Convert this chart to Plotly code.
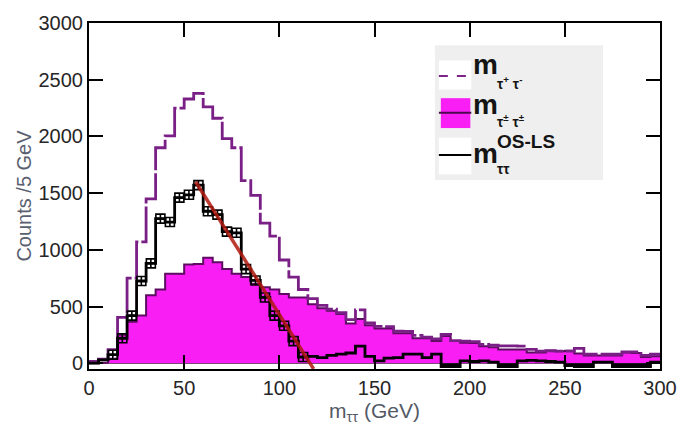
import numpy as np
import plotly.graph_objects as go

# ---- data (5 GeV bins, 0-300 GeV) ----
bin_width = 5
bin_edges = list(range(0, 305, bin_width))

os_counts = [15, 35, 120, 405, 750, 1070, 1450, 1900, 2005, 2250,
             2330, 2380, 2260, 2160, 1980, 1900, 1610, 1480, 1235, 1120,
             910, 760, 650, 570, 510, 476, 445, 385, 470, 355,
             325, 322, 282, 280, 245, 230, 215, 255, 200, 195,
             190, 165, 160, 153, 153, 150, 122, 107, 110, 107,
             107, 130, 80, 79, 79, 79, 100, 100, 70, 79]

ls_counts = [0, 5, 40, 250, 365, 420, 600, 650, 790, 790,
             870, 875, 930, 890, 830, 790, 760, 700, 670, 650,
             610, 580, 580, 520, 485, 462, 434, 350, 390, 334,
             306, 306, 264, 264, 221, 221, 195, 240, 195, 180,
             178, 150, 140, 122, 122, 122, 95, 95, 110, 105,
             110, 85, 68, 68, 68, 68, 94, 90, 55, 62]

diff_counts = [0, 30, 75, 220, 420, 725, 880, 1275, 1245, 1460,
               1485, 1570, 1340, 1310, 1160, 1150, 830, 730, 580, 420,
               330, 195, 55, 60, 50, 70, 80, 90, 150, 60,
               20, 45, 50, 80, 80, 50, 80, -30, -30, 20,
               15, 20, 10, -30, -30, 20, 25, 20, 15, 10,
               -20, -30, -30, 10, 10, -30, -30, -30, -30, 10]

fit_x = [56, 118]
fit_y = [1600, -50]

x_ticks = [0, 50, 100, 150, 200, 250, 300]
y_ticks = [0, 500, 1000, 1500, 2000, 2500, 3000]

# ---- figure geometry ----
W, H = 689, 430
L, R, T, B = 89, 19, 13, 58
PW, PH = W - L - R, H - T - B


def px(xp):
    return (xp - L) / PW


def py(yp):
    return (H - B - yp) / PH


def step(vals):
    return list(vals) + [vals[-1]]


centers = [e + bin_width / 2 for e in bin_edges[:-1]]
neg_part = [min(v, 0) for v in diff_counts]

fig = go.Figure()

# same-sign (LS) filled histogram
fig.add_trace(go.Scatter(x=bin_edges, y=step(ls_counts), mode="lines",
                         line=dict(shape="hv", color="#5e0c62", width=2),
                         fill="tozeroy", fillcolor="#f81ef4", showlegend=False))
# opposite-sign histogram
fig.add_trace(go.Scatter(x=bin_edges, y=step(os_counts), mode="lines",
                         line=dict(shape="hv", color="#7a1f86", width=2.8,
                                   dash="40px,3px"),
                         showlegend=False))
# negative part of OS-LS
fig.add_trace(go.Scatter(x=bin_edges, y=step(neg_part), mode="lines",
                         line=dict(shape="hv", color="black", width=0),
                         fill="tozeroy", fillcolor="black", showlegend=False))
# OS-LS histogram
fig.add_trace(go.Scatter(x=bin_edges, y=step(diff_counts), mode="lines",
                         line=dict(shape="hv", color="black", width=2.8),
                         showlegend=False))
fig.add_trace(go.Scatter(x=centers[2:23], y=diff_counts[2:23], mode="markers",
                         marker=dict(symbol="square-cross-open", size=9,
                                     color="black", line=dict(width=1.6)),
                         showlegend=False))
# linear fit
fig.add_trace(go.Scatter(x=fit_x, y=fit_y, mode="lines",
                         line=dict(color="rgba(175,25,15,0.85)", width=3.5),
                         showlegend=False))

axis_common = dict(showline=True, linewidth=2, linecolor="black", mirror="allticks",
                   ticks="inside", ticklen=14, tickwidth=2, tickcolor="black",
                   showgrid=False,
                   tickfont=dict(family="Liberation Sans, Arial", size=20, color="#262626"))

fig.update_layout(
    width=W, height=H,
    margin=dict(l=L, r=R, t=T, b=B),
    paper_bgcolor="white", plot_bgcolor="white",
    xaxis=dict(range=[0, 300], tickvals=x_ticks, zeroline=False,
               title=dict(text="m<sub>ττ</sub> (GeV)", standoff=4,
                          font=dict(family="Liberation Sans, Arial", size=21, color="#545a66")),
               **axis_common),
    yaxis=dict(range=[-51, 3000], tickvals=y_ticks, zeroline=True,
               zerolinecolor="#555555", zerolinewidth=1.5,
               title=dict(text="Counts /5 GeV", standoff=2,
                          font=dict(family="Liberation Sans, Arial", size=20, color="#5a6070")),
               **axis_common),
)

# ---- legend (drawn manually) ----
shapes = [
    dict(type="rect", xref="paper", yref="paper", x0=px(441), x1=px(612), y0=py(176), y1=py(36),
         fillcolor="#efefef", line=dict(width=0), layer="above"),
    dict(type="rect", xref="paper", yref="paper", x0=px(445), x1=px(478), y0=py(82), y1=py(52),
         fillcolor="white", line=dict(width=0), layer="above"),
    dict(type="line", xref="paper", yref="paper", x0=px(445), x1=px(478), y0=py(68), y1=py(68),
         line=dict(color="#7e2388", width=2, dash="dash"), layer="above"),
    dict(type="rect", xref="paper", yref="paper", x0=px(447), x1=px(477), y0=py(122), y1=py(91),
         fillcolor="#f81ef4", line=dict(width=0), layer="above"),
    dict(type="line", xref="paper", yref="paper", x0=px(445), x1=px(478), y0=py(106), y1=py(106),
         line=dict(color="#4a084e", width=2), layer="above"),
    dict(type="rect", xref="paper", yref="paper", x0=px(445), x1=px(478), y0=py(170), y1=py(132),
         fillcolor="white", line=dict(width=0), layer="above"),
    dict(type="line", xref="paper", yref="paper", x0=px(445), x1=px(478), y0=py(150), y1=py(150),
         line=dict(color="black", width=2), layer="above"),
]
fig.update_layout(shapes=shapes)

lf = "Liberation Sans, Arial"
annots = [
    dict(text="<b>m</b>", x=px(478), y=py(56), font=dict(family=lf, size=28, color="#141414")),
    dict(text="<b>τ<sup>+</sup> τ<sup>-</sup></b>", x=px(502), y=py(75), font=dict(family=lf, size=14, color="#141414")),
    dict(text="<b>m</b>", x=px(478), y=py(98), font=dict(family=lf, size=28, color="#141414")),
    dict(text="<b>τ<sup>±</sup> τ<sup>±</sup></b>", x=px(502), y=py(115), font=dict(family=lf, size=14, color="#141414")),
    dict(text="<b>m</b>", x=px(478), y=py(148), font=dict(family=lf, size=28, color="#141414")),
    dict(text="<b>OS-LS</b>", x=px(502), y=py(136), font=dict(family=lf, size=19, color="#141414")),
    dict(text="<b>ττ</b>", x=px(502), y=py(164), font=dict(family=lf, size=14, color="#141414")),
]
for a in annots:
    a.update(xref="paper", yref="paper", xanchor="left", yanchor="middle", showarrow=False)
fig.update_layout(annotations=annots)

fig.write_html("out.html")
